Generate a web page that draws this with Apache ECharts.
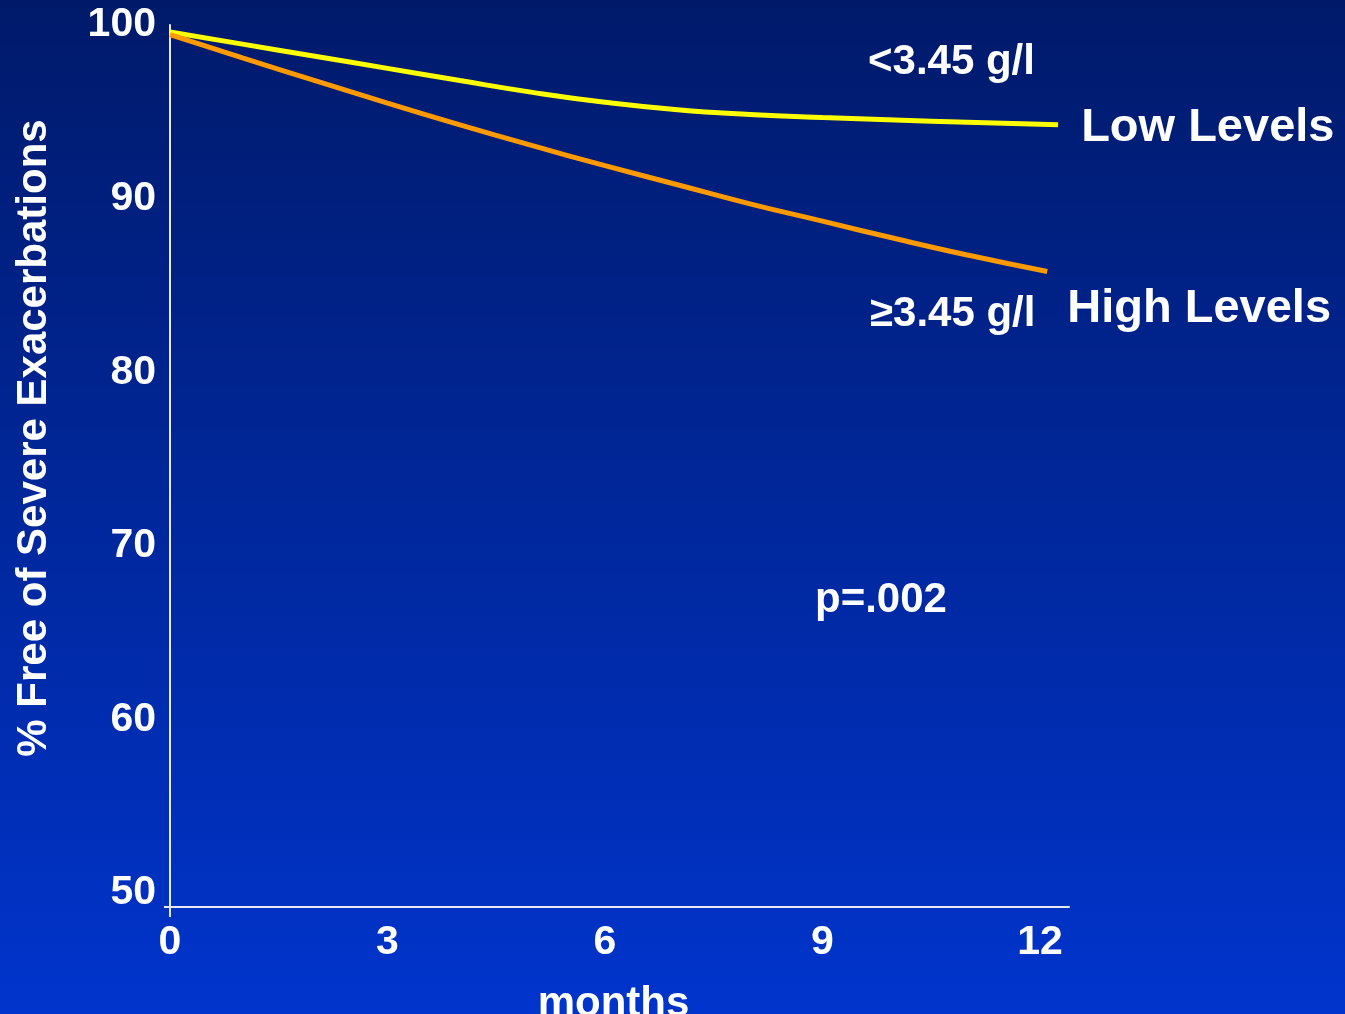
<!DOCTYPE html>
<html>
<head>
<meta charset="utf-8">
<script src="https://cdn.jsdelivr.net/npm/echarts@6/dist/echarts.min.js"></script>
<style>
  html, body { margin: 0; padding: 0; }
  #chart { width: 1345px; height: 1014px; }
</style>
</head>
<body>
<div id="chart"></div>
<script>
// Months of follow-up and % free of severe exacerbations, per fibrinogen group
const lowMonths  = [0, 1, 2, 3, 4, 5, 6, 7, 8, 9, 10, 11, 12.25];
const lowValues  = [99.6, 98.9, 98.2, 97.5, 96.8, 96.12, 95.55, 95.12, 94.85, 94.67, 94.53, 94.4, 94.26];
const highMonths = [0, 1, 2, 3, 4, 5, 6, 7, 8, 9, 10, 11, 12.1];
const highValues = [99.45, 98.1, 96.8, 95.5, 94.25, 93.05, 91.9, 90.8, 89.7, 88.7, 87.7, 86.75, 85.8];

const xTicks = [0, 3, 6, 9, 12];
const yTicks = [50, 60, 70, 80, 90, 100];

const seriesNames = ['Low Levels', 'High Levels'];
const groupLabels = ['<3.45 g/l', '\u22653.45 g/l'];
const pValue = 'p=.002';

const FONT = "'Liberation Sans', Arial, sans-serif";
const pairs = (xs, ys) => xs.map((x, i) => [x, ys[i]]);

const chart = echarts.init(document.getElementById('chart'));
chart.setOption({
  animation: false,
  backgroundColor: {
    type: 'linear', x: 0, y: 0, x2: 0, y2: 1,
    colorStops: [
      { offset: 0, color: '#001a6a' },
      { offset: 1, color: '#0034cc' }
    ]
  },
  textStyle: { fontFamily: FONT },
  grid: { left: 170, right: 276, top: 25, bottom: 107, outerBoundsMode: 'none', containLabel: false },
  xAxis: {
    type: 'value',
    min: 0,
    max: 12.4,
    name: 'months',
    nameLocation: 'middle',
    nameGap: 76,
    nameTextStyle: { color: '#fff', fontSize: 42, fontWeight: 'bold', fontFamily: FONT, padding: [0, 12, 0, 0] },
    axisLine: { show: true, lineStyle: { color: '#e6e8f2', width: 2 } },
    axisTick: { show: true, customValues: [0], length: 10, lineStyle: { color: '#e6e8f2', width: 2 } },
    axisLabel: {
      customValues: xTicks,
      color: '#fff', fontSize: 41, fontWeight: 'bold', fontFamily: FONT, margin: 15
    },
    splitLine: { show: false }
  },
  yAxis: {
    type: 'value',
    min: 49.2,
    max: 100,
    name: '% Free of Severe Exacerbations',
    nameLocation: 'middle',
    nameGap: 115,
    nameRotate: 90,
    nameTextStyle: { color: '#fff', fontSize: 42, fontWeight: 'bold', fontFamily: FONT, padding: [0, 0, 0, 56] },
    axisLine: { show: true, lineStyle: { color: '#e6e8f2', width: 2 } },
    axisTick: { show: true, customValues: [49.2], length: 6, lineStyle: { color: '#e6e8f2', width: 2 } },
    axisLabel: {
      customValues: yTicks,
      color: '#fff', fontSize: 41, fontWeight: 'bold', fontFamily: FONT, margin: 14
    },
    splitLine: { show: false }
  },
  series: [
    {
      name: seriesNames[0],
      type: 'line',
      data: pairs(lowMonths, lowValues),
      smooth: true,
      showSymbol: false,
      lineStyle: { color: '#ffff00', width: 5 },
      endLabel: {
        show: true,
        formatter: seriesNames[0],
        distance: 23,
        offset: [0, 3],
        color: '#fff', fontSize: 47, fontWeight: 'bold', fontFamily: FONT
      }
    },
    {
      name: seriesNames[1],
      type: 'line',
      data: pairs(highMonths, highValues),
      smooth: true,
      showSymbol: false,
      lineStyle: { color: '#ff9900', width: 5 },
      endLabel: {
        show: true,
        formatter: seriesNames[1],
        distance: 20,
        offset: [0, 38],
        color: '#fff', fontSize: 47, fontWeight: 'bold', fontFamily: FONT
      }
    }
  ],
  graphic: [
    {
      type: 'text', left: 868, top: 41,
      style: { text: groupLabels[0], fill: '#fff', font: 'bold 42px ' + FONT }
    },
    {
      type: 'text', left: 870, top: 293,
      style: { text: groupLabels[1], fill: '#fff', font: 'bold 42px ' + FONT }
    },
    {
      type: 'text', left: 815, top: 579,
      style: { text: pValue, fill: '#fff', font: 'bold 42px ' + FONT }
    }
  ]
});
</script>
</body>
</html>
